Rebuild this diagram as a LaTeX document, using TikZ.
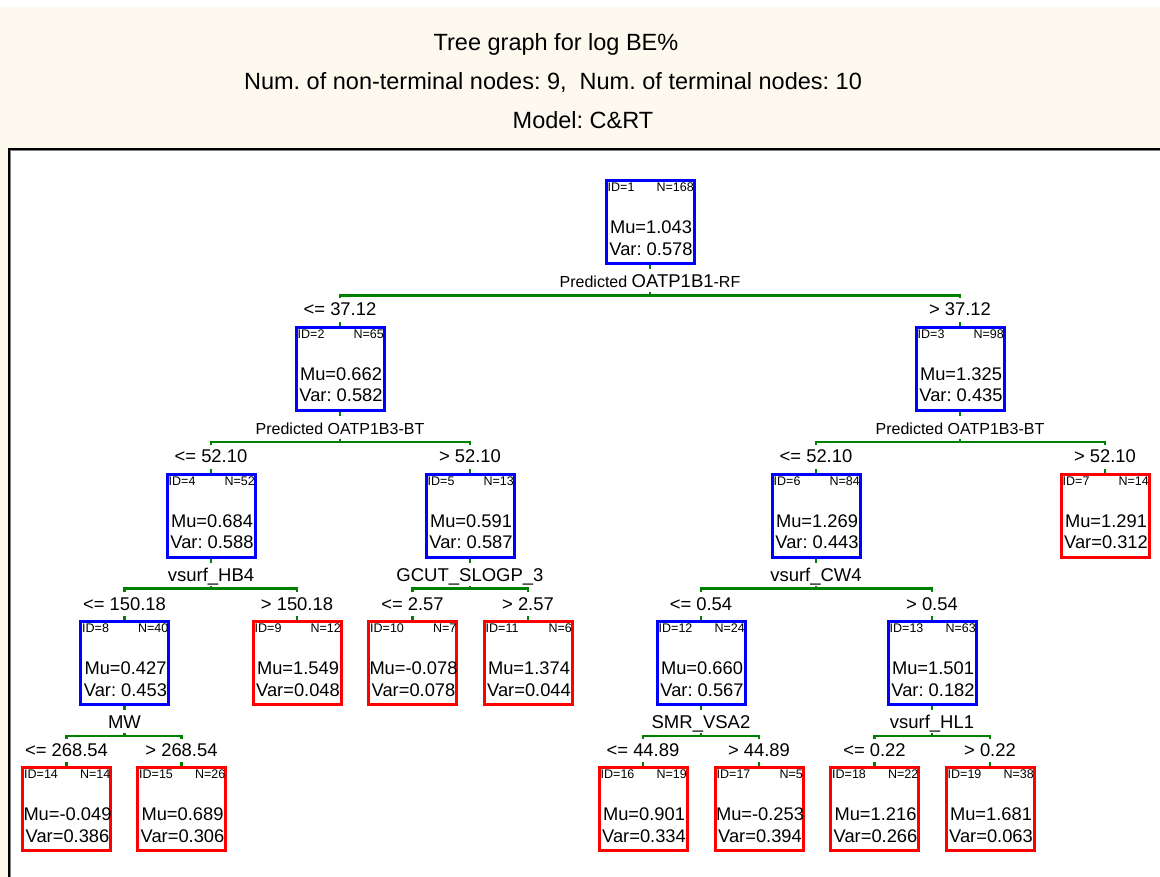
\documentclass[tikz,border=0pt]{standalone}
\usepackage{fontspec}
\setmainfont{Liberation Sans}
\usetikzlibrary{positioning, calc}
\definecolor{cartblue}{RGB}{0,0,255}
\definecolor{cartred}{RGB}{255,0,0}
\definecolor{cartgreen}{RGB}{0,128,0}
\definecolor{panelbeige}{RGB}{254,249,238}
\frenchspacing
\newcommand{\predfont}{\fontsize{16}{18}\selectfont}
% box with ID, N, Mu and Var
\newcommand{\cartnode}[8]{%
  \node[#4] (#1) at (#2,#3) {};
  \node[tag, anchor=base west] (#1-id) at ([shift={(3pt,-12.5pt)}]#1.north west) {ID=#5};
  \node[tag, anchor=base east] (#1-n) at ([shift={(-1.5pt,-12.5pt)}]#1.north east) {N=#6};
  \node[stat] (#1-mu) at ([shift={(1pt,-54.5pt)}]#1.north) {Mu=#7};
  \node[stat] (#1-var) at ([shift={(1pt,-76pt)}]#1.north) {#8};
}
% split of a parent into two children
\newcommand{\cartsplit}[6]{%
  \coordinate (#1-split) at ([yshift=-30pt]#1.south);
  \draw[branch] (#1.south) -- ++(0,-4);
  \draw[branch] (#1-split) -- ++(0,3);
  \draw[branch] (#2.north |- #1-split) ++(0,-3) -- (#2.north |- #1-split) -- (#3.north |- #1-split) -- ++(0,-3);
  \draw[branch] (#2.north) -- ++(0,4);
  \draw[branch] (#3.north) -- ++(0,4);
  \node[splitvar] (#1-rule) at ([yshift=7.5pt]#1-split) {#4};
  \node[cut] (#2-cut) at ([yshift=10pt]#2.north) {#5};
  \node[cut] (#3-cut) at ([yshift=10pt]#3.north) {#6};
}

\begin{document}
\begin{tikzpicture}[
    x=1pt, y=1pt,
    title/.style={font=\fontsize{23.5}{26}\selectfont, inner sep=0},
    inner/.style={draw=cartblue, line width=3pt, minimum width=88pt, minimum height=83pt, inner sep=0},
    leaf/.style={inner, draw=cartred},
    tag/.style={font=\fontsize{12.5}{14}\selectfont, inner sep=0},
    stat/.style={font=\fontsize{18.3}{21}\selectfont, inner sep=0, anchor=base},
    branch/.style={draw=cartgreen, line width=2.2pt},
    splitvar/.style={font=\fontsize{18.5}{20}\selectfont, inner sep=0, anchor=base},
    cut/.style={font=\fontsize{18.4}{20}\selectfont, inner sep=0, anchor=base}
]
\useasboundingbox (0,0) rectangle (1160,-877);
\fill[white] (0,0) rectangle (1160,-877);
\fill[panelbeige] (0,-7) rectangle (1160,-149);
\fill[panelbeige] (0,-149) rectangle (8,-877);
\draw[gray, line width=1pt] (10.4,-877) -- (10.4,-150.6) -- (1160,-150.6);
\draw[black, line width=2.4pt] (8.7,-877) -- (8.7,-148.8) -- (1160,-148.8);

\node[title] (title) at (556,-44) {Tree graph for log BE\%};
\node[title] (counts) at (553,-82) {Num. of non-terminal nodes: 9, \ Num. of terminal nodes: 10};
\node[title] (model) at (583,-120) {Model: C\&RT};

\cartnode{n1}{650}{-222.5}{inner}{1}{168}{1.043}{Var: 0.578}
\cartnode{n2}{340}{-369}{inner}{2}{65}{0.662}{Var: 0.582}
\cartnode{n3}{960}{-369}{inner}{3}{98}{1.325}{Var: 0.435}
\cartnode{n4}{211}{-515.5}{inner}{4}{52}{0.684}{Var: 0.588}
\cartnode{n5}{470}{-515.5}{inner}{5}{13}{0.591}{Var: 0.587}
\cartnode{n6}{816}{-515.5}{inner}{6}{84}{1.269}{Var: 0.443}
\cartnode{n7}{1105}{-515.5}{leaf}{7}{14}{1.291}{Var=0.312}
\cartnode{n8}{124.5}{-663}{inner}{8}{40}{0.427}{Var: 0.453}
\cartnode{n9}{297}{-663}{leaf}{9}{12}{1.549}{Var=0.048}
\cartnode{n10}{412.5}{-663}{leaf}{10}{7}{-0.078}{Var=0.078}
\cartnode{n11}{528}{-663}{leaf}{11}{6}{1.374}{Var=0.044}
\cartnode{n12}{701}{-663}{inner}{12}{24}{0.660}{Var: 0.567}
\cartnode{n13}{932}{-663}{inner}{13}{63}{1.501}{Var: 0.182}
\cartnode{n14}{66.5}{-809}{leaf}{14}{14}{-0.049}{Var=0.386}
\cartnode{n15}{181.5}{-809}{leaf}{15}{26}{0.689}{Var=0.306}
\cartnode{n16}{643}{-809}{leaf}{16}{19}{0.901}{Var=0.334}
\cartnode{n17}{759}{-809}{leaf}{17}{5}{-0.253}{Var=0.394}
\cartnode{n18}{874.5}{-809}{leaf}{18}{22}{1.216}{Var=0.266}
\cartnode{n19}{990}{-809}{leaf}{19}{38}{1.681}{Var=0.063}

\cartsplit{n1}{n2}{n3}{{\predfont Predicted }OATP1B1{\predfont -RF}}{<= 37.12}{> 37.12}
\cartsplit{n2}{n4}{n5}{\predfont Predicted OATP1B3-BT}{<= 52.10}{> 52.10}
\cartsplit{n3}{n6}{n7}{\predfont Predicted OATP1B3-BT}{<= 52.10}{> 52.10}
\cartsplit{n4}{n8}{n9}{vsurf\_HB4}{<= 150.18}{> 150.18}
\cartsplit{n5}{n10}{n11}{GCUT\_SLOGP\_3}{<= 2.57}{> 2.57}
\cartsplit{n6}{n12}{n13}{vsurf\_CW4}{<= 0.54}{> 0.54}
\cartsplit{n8}{n14}{n15}{MW}{<= 268.54}{> 268.54}
\cartsplit{n12}{n16}{n17}{SMR\_VSA2}{<= 44.89}{> 44.89}
\cartsplit{n13}{n18}{n19}{vsurf\_HL1}{<= 0.22}{> 0.22}

\end{tikzpicture}
\end{document}
